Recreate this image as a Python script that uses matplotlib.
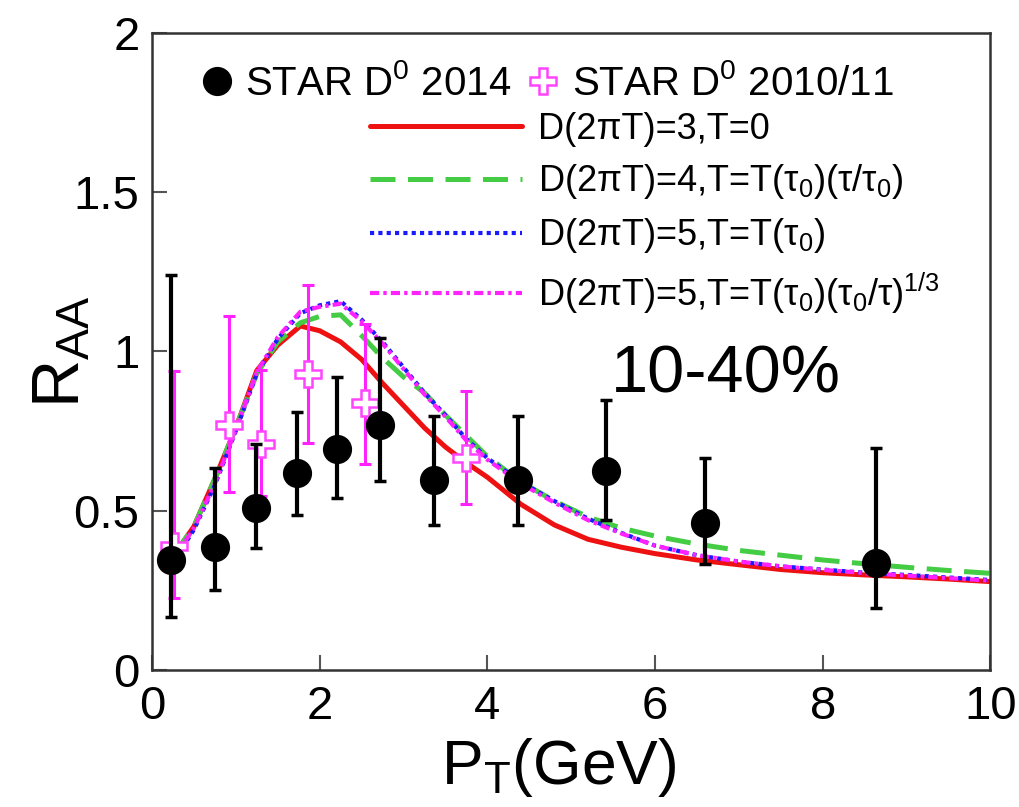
import matplotlib
matplotlib.use("Agg")
import matplotlib.pyplot as plt

plt.rcParams['font.family'] = ['Liberation Sans', 'DejaVu Sans']
plt.rcParams['mathtext.default'] = 'regular'

# STAR D0 2014 (10-40%)
star14_pt = [0.23, 0.75, 1.24, 1.73, 2.21, 2.72, 3.36, 4.36, 5.41, 6.59, 8.63]
star14_raa = [0.344, 0.386, 0.508, 0.619, 0.695, 0.769, 0.595, 0.595, 0.624, 0.462, 0.335]
star14_hi = [1.24, 0.635, 0.708, 0.81, 0.92, 1.043, 0.797, 0.797, 0.847, 0.664, 0.696]
star14_lo = [0.167, 0.251, 0.384, 0.486, 0.54, 0.593, 0.455, 0.455, 0.47, 0.332, 0.194]

# STAR D0 2010/11
star11_pt = [0.26, 0.92, 1.30, 1.86, 2.54, 3.74]
star11_raa = [0.39, 0.769, 0.708, 0.928, 0.839, 0.666]
star11_hi = [0.94, 1.11, 0.943, 1.21, 1.085, 0.876]
star11_lo = [0.227, 0.56, 0.546, 0.713, 0.645, 0.52]

# Model curves
pt_grid = [0.26, 0.5, 0.75, 1.0, 1.25, 1.5, 1.77, 2.0, 2.25, 2.5, 2.75, 3.0, 3.25,
           3.5, 3.75, 4.0, 4.4, 4.8, 5.2, 5.6, 6.0, 6.5, 7.0, 7.5, 8.0, 8.5, 9.0, 9.5, 10.0]
raa_d3 = [0.36, 0.45, 0.60, 0.76, 0.94, 1.02, 1.08, 1.065, 1.03, 0.975, 0.90, 0.83, 0.76,
          0.70, 0.65, 0.605, 0.52, 0.455, 0.41, 0.385, 0.365, 0.345, 0.33, 0.315, 0.305,
          0.298, 0.292, 0.285, 0.277]
raa_d4 = [0.36, 0.45, 0.60, 0.76, 0.93, 1.03, 1.09, 1.11, 1.115, 1.05, 0.98, 0.92, 0.87,
          0.80, 0.735, 0.67, 0.59, 0.53, 0.48, 0.445, 0.42, 0.395, 0.375, 0.36, 0.345,
          0.333, 0.322, 0.312, 0.303]
raa_d5 = [0.34, 0.44, 0.58, 0.75, 0.93, 1.04, 1.12, 1.145, 1.158, 1.10, 1.03, 0.95, 0.87,
          0.80, 0.725, 0.665, 0.59, 0.53, 0.475, 0.43, 0.39, 0.36, 0.34, 0.325, 0.315,
          0.305, 0.298, 0.29, 0.282]
raa_d5b = [0.35, 0.445, 0.585, 0.755, 0.935, 1.045, 1.125, 1.14, 1.15, 1.095, 1.025, 0.945,
           0.865, 0.795, 0.72, 0.66, 0.585, 0.525, 0.47, 0.428, 0.39, 0.36, 0.34, 0.325,
           0.314, 0.304, 0.296, 0.288, 0.28]

x_ticks = [0, 2, 4, 6, 8, 10]
y_ticks = [0, 0.5, 1, 1.5, 2]
y_tick_labels = ['0', '0.5', '1', '1.5', '2']

fig = plt.figure(figsize=(10.2, 8.07), dpi=100)
ax = fig.add_axes([0.149, 0.170, 0.822, 0.789])

l1, = ax.plot(pt_grid, raa_d3, color='#ee1111', lw=3.6, solid_capstyle='round')
l2, = ax.plot(pt_grid, raa_d4, color='#44cc44', lw=3.6, linestyle=(0, (5, 2.5)))
l3, = ax.plot(pt_grid, raa_d5, color='#1a1aff', lw=3.0, linestyle=(0, (1, 1)))
l4, = ax.plot(pt_grid, raa_d5b, color='#ff22ff', lw=3.0, linestyle=(0, (2.2, 1, 0.8, 1)))

yerr11 = [[r - lo for r, lo in zip(star11_raa, star11_lo)],
          [hi - r for r, hi in zip(star11_raa, star11_hi)]]
ax.errorbar(star11_pt, star11_raa, yerr=yerr11, fmt='none', ecolor='#ff22ff',
            elinewidth=2.2, capsize=4, capthick=2.2, zorder=4)
m2, = ax.plot(star11_pt, star11_raa, linestyle='none', marker='P', markersize=19,
              markerfacecolor='white', markeredgecolor='#ff44ff', markeredgewidth=1.8,
              zorder=5)

yerr14 = [[r - lo for r, lo in zip(star14_raa, star14_lo)],
          [hi - r for r, hi in zip(star14_raa, star14_hi)]]
ax.errorbar(star14_pt, star14_raa, yerr=yerr14, fmt='none', ecolor='black',
            elinewidth=3.0, capsize=4, capthick=2.5, zorder=6)
m1, = ax.plot(star14_pt, star14_raa, linestyle='none', marker='o', markersize=20,
              color='black', zorder=7)

ax.set_xlim(0, 10)
ax.set_ylim(0, 2)
ax.set_xticks(x_ticks)
ax.set_yticks(y_ticks)
ax.set_yticklabels(y_tick_labels)
ax.tick_params(direction='in', length=11, width=1.5, color='#555555',
               labelsize=34, top=False, right=False)
ax.tick_params(axis='x', pad=11)
ax.tick_params(axis='y', pad=9)
for s in ax.spines.values():
    s.set_linewidth(1.8)
    s.set_color('#333333')

ax.set_xlabel('P$_T$(GeV)', fontsize=45)
ax.xaxis.set_label_coords(0.485, -0.104)
ax.set_ylabel('R$_{AA}$', fontsize=48)
ax.yaxis.set_label_coords(-0.070, 0.5)

ax.text(0.547, 0.435, '10-40%', transform=ax.transAxes, fontsize=48)

leg1 = ax.legend([m1, m2], ['STAR D$^0$ 2014', 'STAR D$^0$ 2010/11'],
                 loc='upper left', bbox_to_anchor=(0.058, 0.952), ncol=2,
                 frameon=False, fontsize=29, handlelength=0.8, handletextpad=0.3,
                 columnspacing=0.4, borderaxespad=0, borderpad=0)
ax.add_artist(leg1)

ax.legend([l1, l2, l3, l4],
          ['D(2πT)=3,T=0',
           'D(2πT)=4,T=T(τ$_0$)(τ/τ$_0$)',
           'D(2πT)=5,T=T(τ$_0$)',
           'D(2πT)=5,T=T(τ$_0$)(τ$_0$/τ)$^{1/3}$'],
          loc='upper left', bbox_to_anchor=(0.26, 0.876), frameon=False,
          fontsize=26, handlelength=4.2, handletextpad=0.45, labelspacing=0.42,
          borderaxespad=0, borderpad=0)

fig.savefig('out.png', dpi=100)
